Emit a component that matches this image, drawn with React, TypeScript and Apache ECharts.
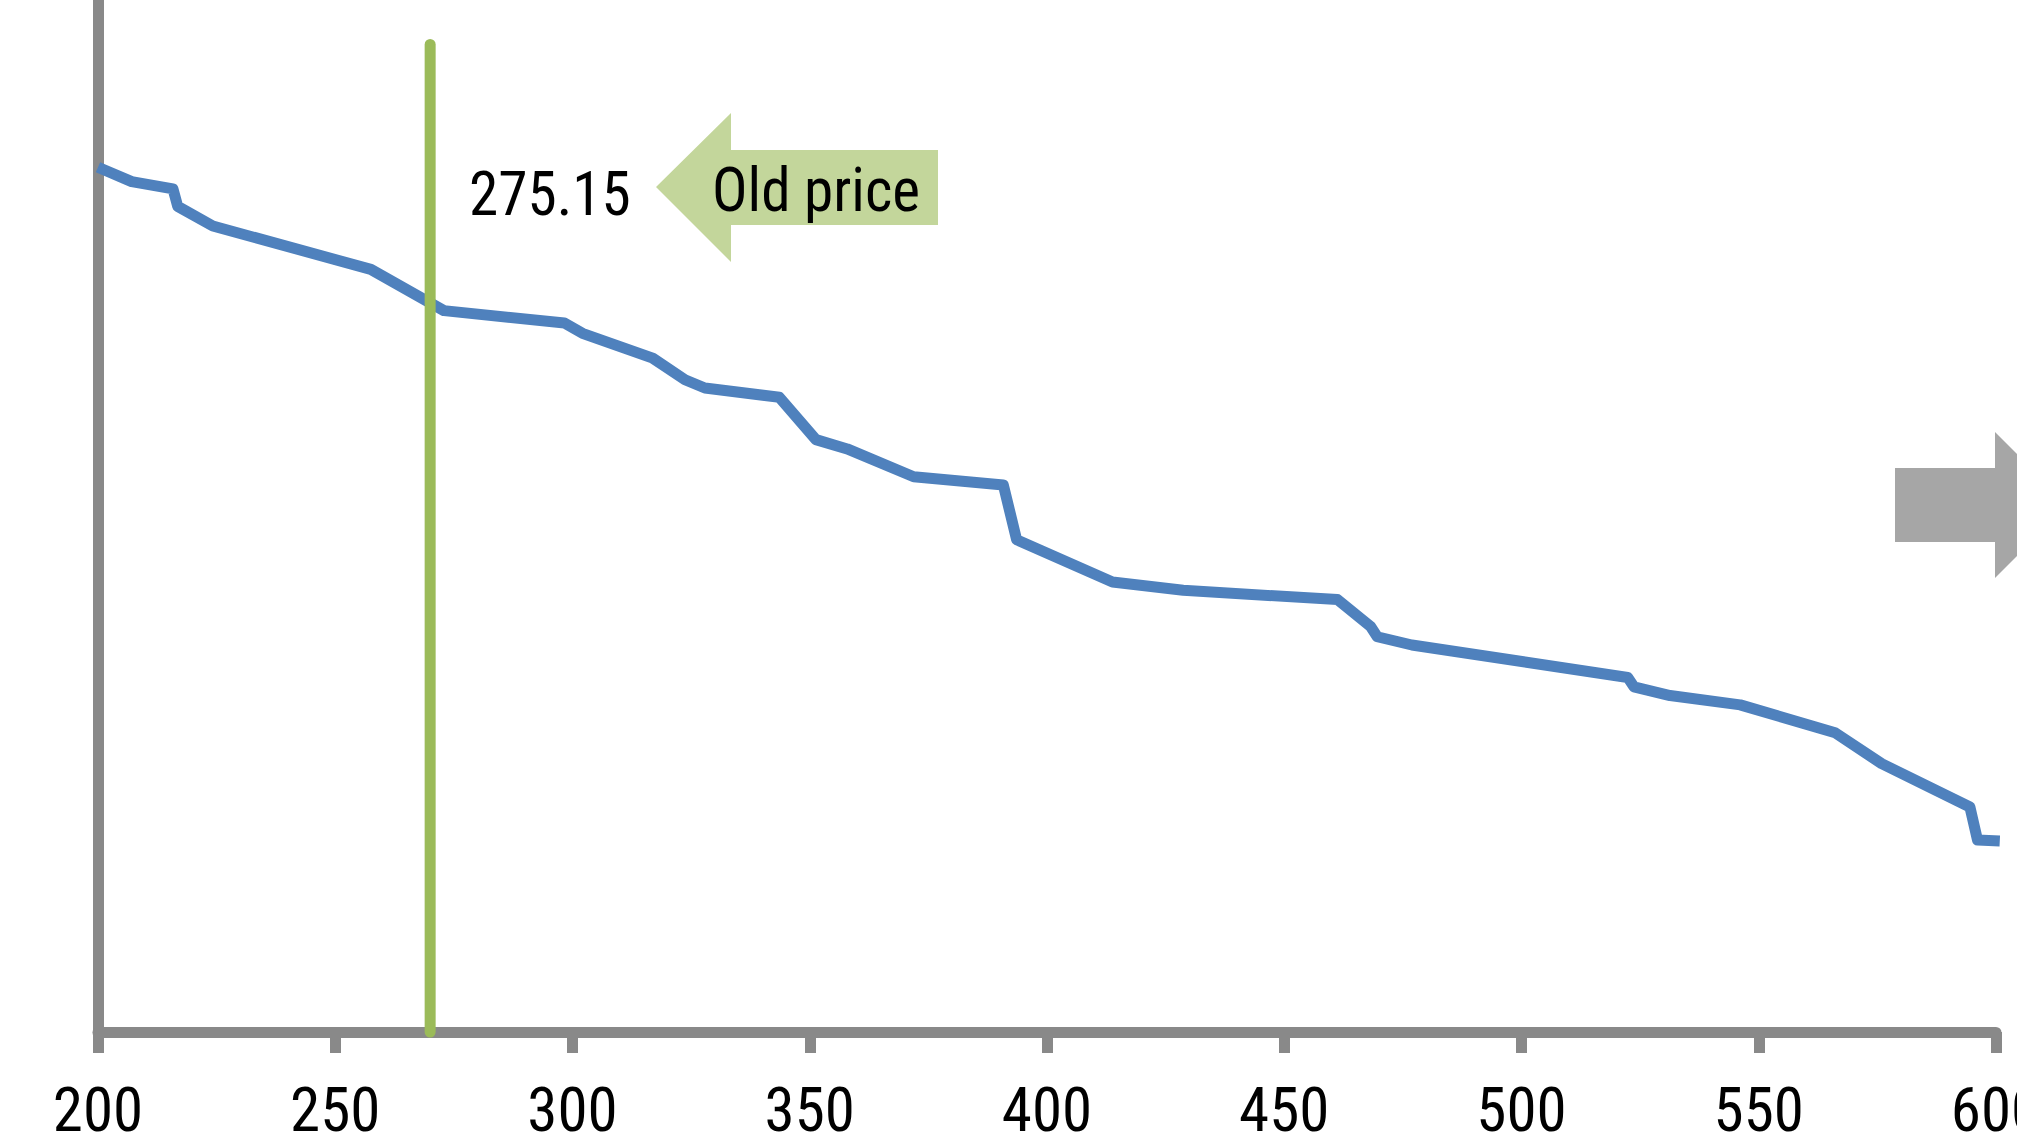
import React, { useEffect, useRef } from "react";
import * as echarts from "echarts";

// ---- Data ----
const xTicks = [200, 250, 300, 350, 400, 450, 500, 550, 600];
const curveX = [
  200, 207.1, 215.8, 216.8, 224.2, 257.5, 272.9, 298.3, 302.1, 316.9, 323.7,
  327.9, 343.6, 351.3, 357.9, 371.9, 390.8, 393.6, 413.8, 428.7, 461.2, 468.2,
  469.6, 476.9, 522.4, 523.7, 531.3, 546.1, 566.1, 575.9, 594.5, 596.1, 600.8,
];
const curveY = [
  83.8, 82.4, 81.7, 80.0, 78.1, 73.9, 69.9, 68.7, 67.7, 65.3, 63.2, 62.4,
  61.5, 57.4, 56.5, 53.8, 53.0, 47.7, 43.6, 42.8, 41.9, 39.3, 38.3, 37.5,
  34.35, 33.45, 32.6, 31.7, 29.0, 26.0, 21.8, 18.6, 18.5,
];
const oldPriceX = 270;
const oldPriceLineY = [0, 95.7];
const oldPriceLabel = "275.15";
const oldPriceText = "Old price";

const AXIS_GRAY = "#898989";
const NARROW_CANDIDATES = [
  "Liberation Sans Narrow",
  "Arial Narrow",
  "Noto Sans ExtraCondensed",
  "Noto Sans Condensed",
  "Roboto Condensed",
];

function fontAvailable(name: string): boolean {
  try {
    const ctx = document.createElement("canvas").getContext("2d");
    if (!ctx) return false;
    const probe = "abcdefghijklmnopqrstuvwxyz0123456789";
    ctx.font = "40px monospace";
    const w1 = ctx.measureText(probe).width;
    ctx.font = `40px "${name}", monospace`;
    const w2 = ctx.measureText(probe).width;
    ctx.font = "40px serif";
    const w3 = ctx.measureText(probe).width;
    ctx.font = `40px "${name}", serif`;
    const w4 = ctx.measureText(probe).width;
    return w1 !== w2 || w3 !== w4;
  } catch (e) {
    return false;
  }
}

export default function App() {
  const ref = useRef<HTMLDivElement>(null);

  useEffect(() => {
    if (!ref.current) return;
    const narrow = NARROW_CANDIDATES.find((f) => fontAvailable(f));
    const labelFamily = narrow ? `'${narrow}', 'Liberation Sans', sans-serif` : "'Liberation Sans', Arial, sans-serif";
    const labelSize = narrow ? 61 : 56;
    const labelMargin = Math.round(77.5 - labelSize / 2);
    const annoFont = narrow ? `62px '${narrow}', sans-serif` : "62px 'Liberation Sans', Arial, sans-serif";
    const annoScale = narrow ? 0.955 : 0.82;

    const chart = echarts.init(ref.current, undefined, { renderer: "svg" });
    const curve = curveX.map((x, i) => [x, curveY[i]]);
    const oldLine = oldPriceLineY.map((y) => [oldPriceX, y]);

    chart.setOption({
      animation: false,
      backgroundColor: "#ffffff",
      grid: {
        left: 98,
        right: 21,
        top: 0,
        bottom: 113,
        containLabel: false,
        outerBoundsMode: "none",
      },
      xAxis: {
        type: "value",
        min: xTicks[0],
        max: xTicks[xTicks.length - 1],
        interval: 50,
        axisLine: { show: true, lineStyle: { color: AXIS_GRAY, width: 11 } },
        axisTick: { show: true, length: 21, lineStyle: { color: AXIS_GRAY, width: 11 } },
        axisLabel: {
          show: true,
          fontSize: labelSize,
          fontFamily: labelFamily,
          color: "#000000",
          margin: labelMargin,
          showMinLabel: true,
          showMaxLabel: true,
          hideOverlap: false,
        },
        splitLine: { show: false },
      },
      yAxis: {
        type: "value",
        min: 0,
        max: 100,
        axisLine: { show: true, lineStyle: { color: AXIS_GRAY, width: 11 } },
        axisTick: { show: false },
        axisLabel: { show: false },
        splitLine: { show: false },
      },
      series: [
        {
          type: "line",
          data: curve,
          symbol: "none",
          showSymbol: false,
          clip: false,
          lineStyle: { color: "#4F81BD", width: 11, join: "round" },
          z: 3,
        },
        {
          type: "line",
          data: oldLine,
          symbol: "none",
          showSymbol: false,
          clip: false,
          lineStyle: { color: "#9BBB59", width: 11, cap: "round" },
          z: 4,
        },
      ],
      graphic: [
        {
          type: "polygon",
          shape: {
            points: [
              [656, 187], [731, 113], [731, 150], [938, 150],
              [938, 225], [731, 225], [731, 262],
            ],
          },
          style: { fill: "#C3D69B" },
          z: 5,
        },
        {
          type: "text",
          x: 712,
          y: 190,
          scaleX: annoScale,
          style: {
            text: oldPriceText,
            font: annoFont,
            fill: "#000000",
            align: "left",
            verticalAlign: "middle",
          },
          z: 6,
        },
        {
          type: "text",
          x: 469,
          y: 194,
          scaleX: annoScale,
          style: {
            text: oldPriceLabel,
            font: annoFont,
            fill: "#000000",
            align: "left",
            verticalAlign: "middle",
          },
          z: 6,
        },
        {
          type: "polygon",
          shape: {
            points: [
              [1895, 468], [1995, 468], [1995, 432], [2068, 505],
              [1995, 578], [1995, 542], [1895, 542],
            ],
          },
          style: { fill: "#A6A6A6" },
          z: 5,
        },
      ],
    });

    return () => chart.dispose();
  }, []);

  return (
    <div
      ref={ref}
      style={{
        position: "absolute",
        left: 0,
        top: 0,
        width: 2017,
        height: 1145,
        background: "#ffffff",
        overflow: "hidden",
      }}
    />
  );
}
